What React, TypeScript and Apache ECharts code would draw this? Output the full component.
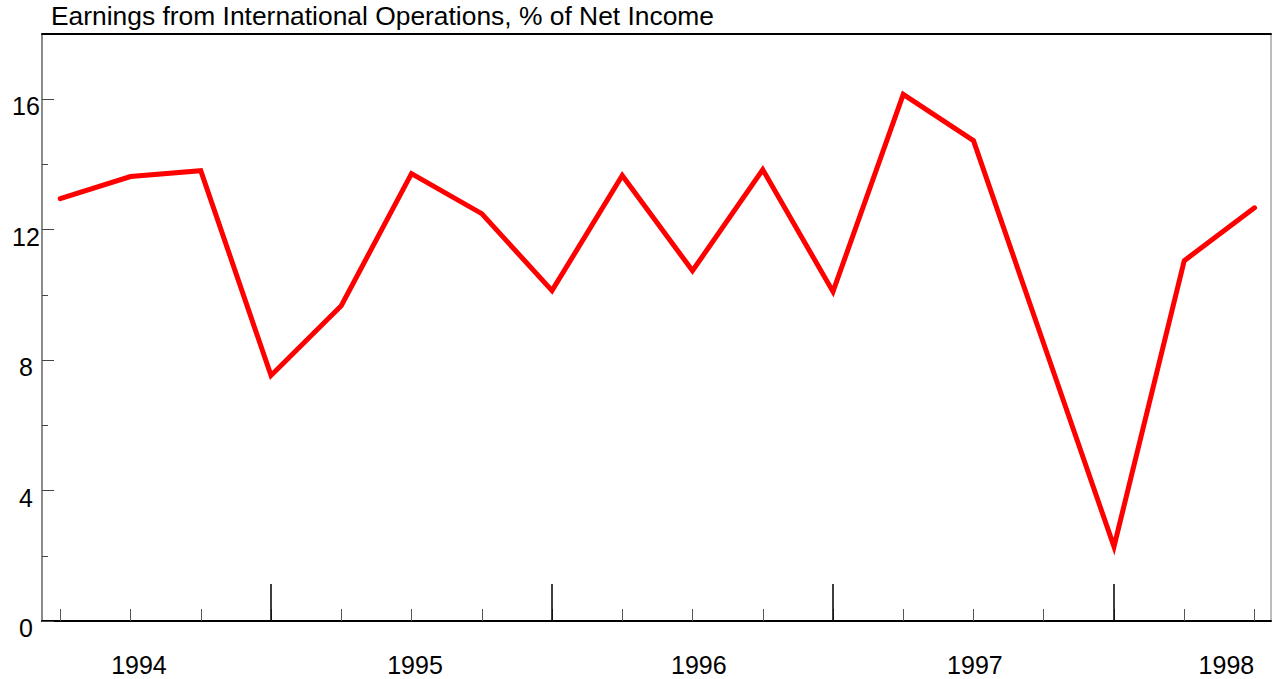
import React, { useEffect, useRef } from "react";
import * as echarts from "echarts";

const TITLE = "Earnings from International Operations, % of Net Income";
// 18 quarterly observations (index 0..17)
const quarterIndex = [0, 1, 2, 3, 4, 5, 6, 7, 8, 9, 10, 11, 12, 13, 14, 15, 16, 17];
const values = [12.95, 13.63, 13.81, 7.53, 9.67, 13.72, 12.49, 10.13, 13.66, 10.74, 13.84, 10.1, 16.15, 14.73, 8.5, 2.28, 11.05, 12.67];
const yearLabels = ["1994", "1995", "1996", "1997", "1998"];
const yearLabelAt = [1.12, 5.05, 9.09, 13.02, 16.6];
const yearBoundaryTicks = [3, 7, 11, 15];
const yMajorTicks = [0, 4, 8, 12, 16];
const yMinorTicks = [2, 6, 10, 14];

const FONT = "'Liberation Sans', Arial, sans-serif";

export default function App() {
  const ref = useRef<HTMLDivElement>(null);
  useEffect(() => {
    if (!ref.current) return;
    const chart = echarts.init(ref.current, undefined, { renderer: "svg" });
    const xMin = -0.26;
    const xMax = 17.235;
    chart.setOption({
      animation: false,
      backgroundColor: "#ffffff",
      textStyle: { fontFamily: FONT },
      title: {
        text: TITLE,
        left: 51,
        top: 3,
        padding: 0,
        textStyle: { fontSize: 26.4, fontWeight: "normal", color: "#000", fontFamily: FONT },
      },
      grid: {
        left: 42,
        right: 2,
        top: 34,
        bottom: 58,
        show: true,
        borderColor: "#7a7a7a",
        borderWidth: 1,
      },
      xAxis: [
        {
          type: "value",
          min: xMin,
          max: xMax,
          position: "bottom",
          axisLine: { show: true, onZero: false, lineStyle: { color: "#000", width: 2 } },
          axisTick: {
            show: true,
            inside: true,
            length: 12,
            customValues: quarterIndex,
            lineStyle: { color: "#555", width: 1 },
          },
          axisLabel: {
            show: true,
            customValues: yearLabelAt,
            formatter: (v: number) => {
              const i = yearLabelAt.findIndex((p) => Math.abs(p - v) < 1e-6);
              return i >= 0 ? yearLabels[i] : "";
            },
            fontSize: 25,
            color: "#000",
            margin: 31,
            fontFamily: FONT,
          },
          splitLine: { show: false },
        },
        {
          type: "value",
          min: xMin,
          max: xMax,
          position: "bottom",
          axisLine: { show: false, onZero: false },
          axisTick: {
            show: true,
            inside: true,
            length: 37,
            customValues: yearBoundaryTicks,
            lineStyle: { color: "#000", width: 1.5 },
          },
          axisLabel: { show: false },
          splitLine: { show: false },
        },
        {
          type: "value",
          min: xMin,
          max: xMax,
          position: "top",
          axisLine: { show: true, onZero: false, lineStyle: { color: "#000", width: 2 } },
          axisTick: { show: false },
          axisLabel: { show: false },
          splitLine: { show: false },
        },
      ],
      yAxis: [
        {
          type: "value",
          min: 0,
          max: 18,
          position: "left",
          axisLine: { show: true, onZero: false, lineStyle: { color: "#7a7a7a", width: 1.5 } },
          axisTick: {
            show: true,
            inside: true,
            length: 12,
            customValues: yMajorTicks,
            lineStyle: { color: "#444", width: 1 },
          },
          axisLabel: {
            show: true,
            customValues: yMajorTicks,
            fontSize: 25,
            color: "#000",
            align: "center",
            verticalAlign: "top",
            lineHeight: 14,
            margin: 16,
            fontFamily: FONT,
          },
          splitLine: { show: false },
        },
        {
          type: "value",
          min: 0,
          max: 18,
          position: "left",
          axisLine: { show: false, onZero: false },
          axisTick: {
            show: true,
            inside: true,
            length: 6,
            customValues: yMinorTicks,
            lineStyle: { color: "#444", width: 1 },
          },
          axisLabel: { show: false },
          splitLine: { show: false },
        },
      ],
      series: [
        {
          type: "line",
          xAxisIndex: 0,
          yAxisIndex: 0,
          data: quarterIndex.map((q, i) => [q, values[i]]),
          showSymbol: false,
          symbol: "none",
          lineStyle: { color: "#ff0000", width: 5, cap: "round", join: "miter" },
          z: 1,
        },
      ],
    });
    return () => chart.dispose();
  }, []);
  return <div ref={ref} style={{ width: 1273, height: 679, position: "absolute", left: 0, top: 0 }} />;
}
